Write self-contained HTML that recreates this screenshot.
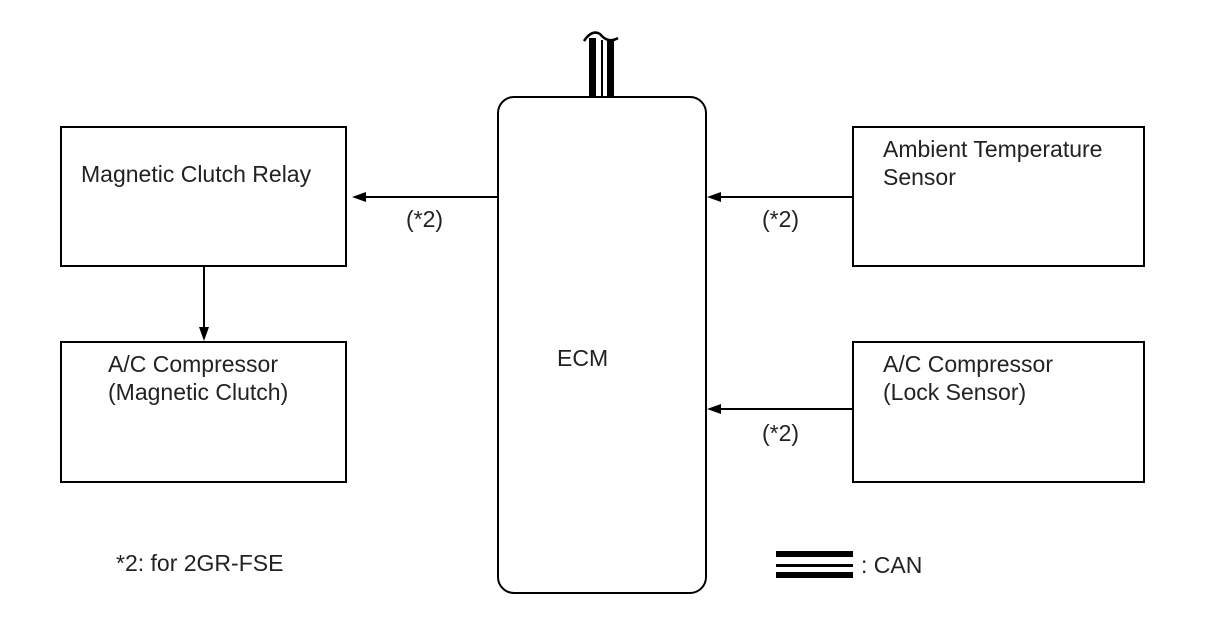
<!DOCTYPE html>
<html><head><style>
body{margin:0;background:#fff;}
svg{display:block;font-family:"Liberation Sans",Arial,sans-serif;}
</style></head><body>
<svg width="1208" height="644" viewBox="0 0 1208 644">
<g fill="none" stroke="#000" stroke-width="2">
<rect x="61" y="127" width="285" height="139"/>
<rect x="61" y="342" width="285" height="140"/>
<rect x="853" y="127" width="291" height="139"/>
<rect x="853" y="342" width="291" height="140"/>
<rect x="498" y="97" width="208" height="496" rx="16"/>
<line x1="497" y1="197" x2="360" y2="197"/>
<line x1="853" y1="197" x2="718" y2="197"/>
<line x1="853" y1="409" x2="718" y2="409"/>
<line x1="204" y1="266" x2="204" y2="330"/>
<path d="M584,41 Q592,29 600,34 Q608,44 618,38" stroke-width="2.5"/>
</g>
<g fill="#000">
<polygon points="352,197 366,192 366,202"/>
<polygon points="707,197 721,192 721,202"/>
<polygon points="707,409 721,404 721,414"/>
<polygon points="204,341 199,327 209,327"/>
<rect x="589" y="38" width="7" height="58"/>
<rect x="601" y="40" width="2" height="56"/>
<rect x="607" y="40" width="7" height="56"/>
<rect x="776" y="551" width="77" height="6"/>
<rect x="776" y="564" width="77" height="3"/>
<rect x="776" y="572" width="77" height="6"/>
</g>
<g font-size="23" fill="#222">
<text x="81" y="182">Magnetic Clutch Relay</text>
<text x="406" y="227">(*2)</text>
<text x="762" y="227">(*2)</text>
<text x="762" y="441">(*2)</text>
<text x="883" y="157">Ambient Temperature</text>
<text x="883" y="185">Sensor</text>
<text x="883" y="372">A/C Compressor</text>
<text x="883" y="400">(Lock Sensor)</text>
<text x="108" y="372">A/C Compressor</text>
<text x="108" y="400">(Magnetic Clutch)</text>
<text x="557" y="366">ECM</text>
<text x="116" y="571">*2: for 2GR-FSE</text>
<text x="861" y="573">: CAN</text>
</g>
</svg>
</body></html>
